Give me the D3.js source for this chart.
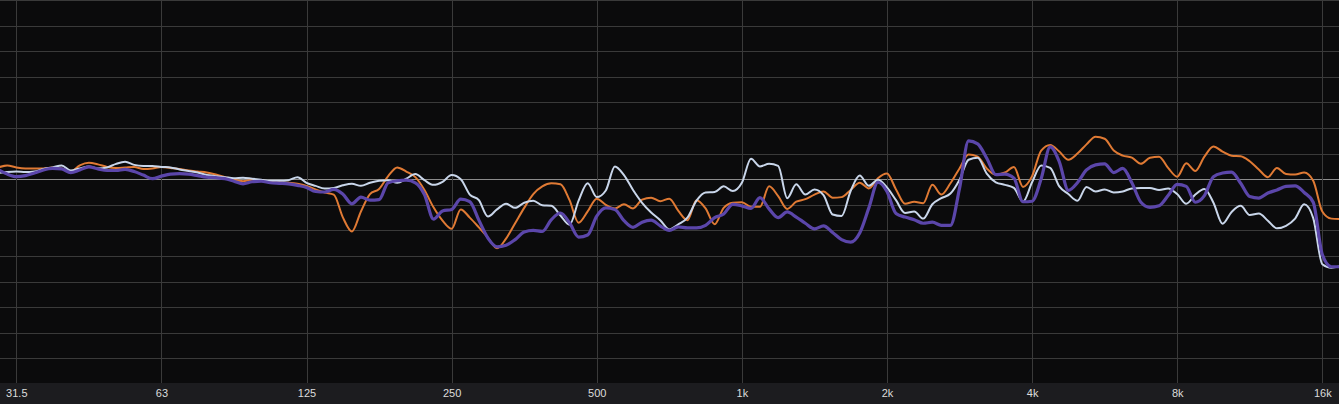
<!DOCTYPE html>
<html><head><meta charset="utf-8">
<script src="https://cdn.jsdelivr.net/npm/d3@7"></script>
<style>html,body{margin:0;padding:0;background:#0b0b0c;overflow:hidden}</style>
</head><body><svg id="c" width="1339" height="404"></svg>
<script>
// Frequencies (Hz), 1/16-octave grid
const freqs = [28.89, 30.16,
  31.5, 32.9, 34.35, 35.87, 37.46, 39.12, 40.85, 42.66, 44.55, 46.52, 48.58, 50.73, 52.98, 55.32, 57.77, 60.33,
  63, 65.79, 68.7, 71.74, 74.92, 78.24, 81.7, 85.32, 89.09, 93.04, 97.16, 101.46, 105.95, 110.65, 115.54, 120.66,
  126, 131.6, 137.4, 143.5, 149.8, 156.5, 163.4, 170.6, 178.2, 186.1, 194.3, 202.9, 211.9, 221.3, 231.1, 241.3,
  252, 263.2, 274.8, 287, 299.7, 313, 326.8, 341.3, 356.4, 372.2, 388.6, 405.8, 423.8, 442.6, 462.2, 482.6,
  504, 526.3, 549.6, 574, 599.4, 625.9, 653.6, 682.6, 712.8, 744.3, 777.3, 811.7, 847.6, 885.2, 924.3, 965.3,
  1008, 1053, 1099, 1148, 1199, 1252, 1307, 1365, 1426, 1489, 1555, 1623, 1695, 1770, 1849, 1931,
  2016, 2105, 2198, 2296, 2397, 2504, 2614, 2730, 2851, 2977, 3109, 3247, 3391, 3541, 3697, 3861,
  4032, 4211, 4397, 4592, 4795, 5007, 5229, 5461, 5702, 5955, 6218, 6494, 6781, 7081, 7395, 7722,
  8064, 8421, 8794, 9183, 9590, 10015, 10458, 10921, 11404, 11909, 12437, 12987, 13562, 14163, 14790, 15444,
  16128, 16842, 17588];

// Responses (dB)
const orangeDb = [2.3, 2.7,
  2.3, 2.1, 2.1, 2.1, 2.3, 2.1, 1.5, 2.7, 3.2, 2.9, 2.4, 2.2, 2.3, 2.4, 2.0, 2.1,
  2.4, 2.2, 2.0, 1.7, 1.5, 1.3, 0.9, 0.4, -0.1, -0.4, -0.1, -0.2, -0.5, -0.6, -0.7, -0.9,
  -1.3, -2.0, -2.6, -3.0, -7.4, -10.2, -6.3, -2.9, -1.9, 0.6, 2.3, 1.5, 0.4, -2.1, -5.5, -8.1,
  -9.7, -5.9, -7.5, -9.4, -11.4, -13.5, -11.6, -8.6, -5.6, -2.9, -1.4, -0.8, -1.0, -4.1, -8.5, -6.3,
  -3.8, -5.0, -5.7, -4.9, -5.7, -4.0, -3.6, -4.3, -3.8, -6.2, -8.0, -4.1, -5.7, -8.8, -5.6, -4.6,
  -4.5, -5.4, -5.4, -1.4, -3.3, -5.8, -4.4, -3.9, -3.0, -2.4, -3.6, -3.5, -2.1, -0.7, -1.8, 0.2,
  1.1, -2.0, -4.8, -4.4, -4.7, -1.1, -3.0, -0.8, 2.1, 4.8, 4.4, 2.1, 0.9, 1.3, 2.4, -1.5,
  0.6, 5.6, 6.7, 5.4, 3.8, 5.0, 6.8, 8.3, 7.9, 5.6, 4.6, 4.2, 3.0, 4.2, 4.4, 2.2,
  0.5, 3.1, 1.6, 4.4, 6.4, 5.4, 4.6, 4.5, 3.5, 1.9, 0.4, 2.2, 1.0, 0.9, 1.3, -0.3,
  -6.3, -7.7, -7.8];

const whiteDb = [1.2, 1.4,
  1.5, 1.4, 1.5, 2.0, 2.3, 2.7, 1.7, 2.1, 2.5, 2.1, 2.3, 3.0, 3.4, 2.8, 2.6, 2.6,
  2.4, 2.3, 1.9, 1.6, 1.3, 0.8, 0.6, 0.4, 0.2, 0.3, 0.1, -0.1, -0.3, -0.3, -0.2, 0.4,
  -0.7, -1.3, -1.8, -1.7, -1.2, -0.9, -1.3, -0.7, -0.3, -0.2, -0.7, 0.1, 1.0, -0.2, -1.1, -0.5,
  0.8, 0.0, -3.0, -4.1, -7.3, -5.9, -4.8, -5.6, -4.6, -4.2, -5.1, -5.2, -7.1, -8.9, -4.2, -0.8,
  -3.5, -2.2, 2.5, 0.8, -2.1, -4.6, -6.5, -8.0, -9.8, -8.8, -7.5, -4.2, -2.6, -2.5, -1.4, -2.3,
  -0.7, 4.0, 2.5, 3.0, 2.6, -3.7, -1.0, -3.0, -2.0, -3.1, -6.9, -7.2, -2.3, 0.7, -1.3, -0.1,
  -1.6, -4.1, -6.6, -6.3, -7.7, -4.9, -3.7, -2.8, -0.1, 3.8, 4.2, 1.1, -0.6, -1.1, -1.7, -4.4,
  -0.6, 2.7, 2.2, -1.4, -2.9, -4.2, -1.5, -2.4, -2.0, -2.6, -2.4, -1.8, -1.7, -1.7, -2.1, -1.8,
  -2.9, -4.8, -3.0, -1.9, -4.6, -8.7, -6.4, -5.2, -7.0, -6.7, -8.1, -9.6, -9.1, -7.7, -4.9, -7.6,
  -16.6, -17.3, -17.0];

const purpleDb = [1.9, 1.0,
  0.5, 0.7, 1.2, 1.8, 2.1, 2.0, 1.3, 1.8, 2.4, 2.0, 1.7, 1.7, 1.9, 1.5, 0.8, 0.1,
  0.6, 1.0, 1.1, 1.0, 0.7, 0.4, 0.3, 0.1, -0.4, -0.9, -0.5, -0.4, -0.7, -0.8, -0.9, -1.2,
  -1.6, -2.4, -2.5, -2.0, -2.9, -4.8, -3.5, -4.1, -4.0, -0.7, -0.3, -0.2, -0.7, -3.0, -7.8, -6.2,
  -5.9, -3.9, -4.4, -8.0, -11.5, -13.2, -12.9, -11.8, -10.3, -10.0, -10.2, -7.9, -6.6, -8.5, -11.3, -10.9,
  -7.2, -5.6, -5.9, -8.1, -9.4, -8.4, -8.0, -9.1, -10.0, -9.3, -9.5, -9.5, -9.0, -7.5, -6.8, -4.9,
  -5.2, -5.7, -3.6, -5.8, -7.5, -6.4, -7.4, -8.6, -9.7, -9.1, -10.4, -11.8, -12.3, -10.5, -5.6, -0.6,
  -2.4, -6.7, -7.4, -7.9, -8.6, -8.4, -9.0, -9.0, -1.8, 7.5, 6.9, 4.1, 0.9, 1.0, 0.2, -4.4,
  -4.3, 0.1, 6.3, 3.4, -2.2, -0.7, 1.8, 2.8, 3.0, 1.3, 2.1, -0.7, -4.5, -5.5, -5.2, -3.2,
  -1.0, -1.4, -4.5, -3.2, 0.5, 1.2, 1.4, -0.8, -3.4, -3.7, -2.7, -2.1, -1.4, -1.3, -2.6, -4.5,
  -14.7, -17.1, -17.1];

// Axis ticks
const tickFreqs = [31.5, 63, 126, 252, 504, 1008, 2016, 4032, 8064, 16128];
const tickLabels = ["31.5", "63", "125", "250", "500", "1k", "2k", "4k", "8k", "16k"];
const gridDb = [35, 30, 25, 20, 15, 10, 5, 0, -5, -10, -15, -20, -25, -30, -35];

const W = 1339, H = 404, plotBottom = 383;
const svg = d3.select("#c");
const x = d3.scaleLog().base(2).domain([31.5, 16128]).range([16.3, 1322.3]);
const y = d3.scaleLinear().domain([35, -40]).range([0, 384]);

svg.append("rect").attr("width", W).attr("height", H).attr("fill", "#0b0b0c");

svg.append("defs").append("clipPath").attr("id", "clip")
  .append("rect").attr("x", 0).attr("y", 0).attr("width", W).attr("height", plotBottom);

const grid = svg.append("g");
grid.selectAll("line.h").data(gridDb).join("line")
  .attr("x1", 0).attr("x2", W)
  .attr("y1", d => Math.round(y(d)) + 0.5).attr("y2", d => Math.round(y(d)) + 0.5)
  .attr("stroke", d => d === 0 ? "#8c8c8c" : "#3a3a3a").attr("stroke-width", 1);
grid.selectAll("line.v").data(tickFreqs).join("line")
  .attr("x1", d => Math.round(x(d)) + 0.5).attr("x2", d => Math.round(x(d)) + 0.5)
  .attr("y1", 0).attr("y2", plotBottom)
  .attr("stroke", "#3a3a3a").attr("stroke-width", 1);

// bottom axis band
svg.append("rect").attr("x", 0).attr("y", plotBottom).attr("width", W).attr("height", H - plotBottom)
  .attr("fill", "#1c1c1f");
const axis = d3.axisBottom(x).tickValues(tickFreqs).tickFormat((d, i) => tickLabels[i]).tickSize(0).tickPadding(0);
const ax = svg.append("g").attr("transform", `translate(0,${plotBottom})`).call(axis);
ax.select(".domain").remove();
ax.selectAll("text").attr("dy", null).attr("y", 14).attr("fill", "#dcdcdc")
  .style("font-family", "Liberation Sans, Arial, sans-serif").style("font-size", "11px");

const series = [
  {vals: orangeDb, color: "#e07a34", w: 2},
  {vals: whiteDb, color: "#c9d6ea", w: 2},
  {vals: purpleDb, color: "#5b46aa", w: 3.2}
];
const line = d3.line().x(d => x(d[0])).y(d => y(d[1])).curve(d3.curveMonotoneX);
const lines = svg.append("g").attr("clip-path", "url(#clip)");
series.forEach(s => {
  lines.append("path").datum(freqs.map((f, i) => [f, s.vals[i]]))
    .attr("d", line).attr("fill", "none").attr("stroke", s.color)
    .attr("stroke-width", s.w).attr("stroke-linejoin", "round").attr("stroke-linecap", "round");
});
</script></body></html>
